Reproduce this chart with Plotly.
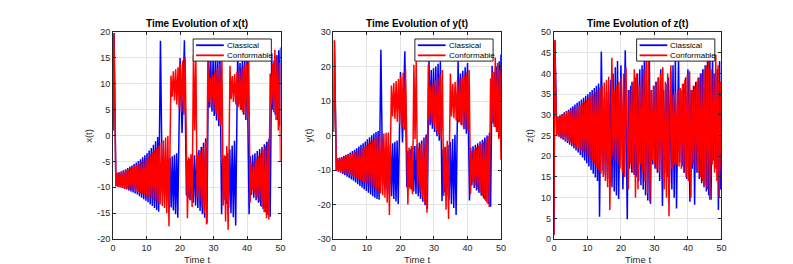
import plotly.graph_objects as go

# ---------------- data: extrema ----------------
# Classical model (blue): times of successive extrema and x, y, z values there
t_cls = [0.0, 0.3,
         0.85, 1.17, 1.49, 1.81, 2.13, 2.45, 2.77, 3.09, 3.41, 3.73, 4.05, 4.37, 4.69, 5.01, 5.33, 5.65, 5.97, 6.29, 6.61, 6.93,
         7.25, 7.57, 7.89, 8.21, 8.53, 8.85, 9.17, 9.49, 9.81, 10.13, 10.45, 10.77, 11.09, 11.41, 11.73, 12.05, 12.37, 12.69, 13.01, 13.33,
         13.62, 14.15,
         14.7, 15.03, 15.36, 15.69, 16.02, 16.35, 16.68, 17.01, 17.34, 17.67, 18.0, 18.33, 18.66, 18.99, 19.32,
         20.0, 20.6, 21.3, 21.9,
         22.24, 22.58, 22.92, 23.26, 23.6, 23.94, 24.28, 24.62, 24.96, 25.3, 25.64, 25.98, 26.32, 26.66, 27.0, 27.34, 27.68, 28.02,
         28.5, 28.84, 29.18, 29.52, 29.86, 30.2, 30.54, 30.88, 31.22, 31.56, 31.9,
         32.4, 32.75, 33.1, 33.45, 33.8, 34.15, 34.5, 34.85, 35.2, 35.55, 35.9, 36.25, 36.6,
         37.2, 37.55, 37.9, 38.25, 38.6, 38.95, 39.3, 39.65, 40.0,
         40.6, 40.95, 41.3, 41.65, 42.0, 42.35, 42.7, 43.05, 43.4, 43.75, 44.1, 44.45, 44.8, 45.15, 45.5, 45.85, 46.2, 46.55, 46.9,
         47.35, 47.7, 48.05, 48.4, 48.75, 49.1, 49.45, 49.75, 50.0]
x_cls = [1.0, 19.8,
         -9.8, -7.2, -9.9, -7.1, -10.0, -6.9, -10.1, -6.7, -10.3, -6.5, -10.4, -6.3, -10.6, -6.0, -10.8, -5.8, -11.0, -5.5,
         -11.2, -5.2, -11.4, -4.9, -11.7, -4.6, -12.0, -4.2, -12.3, -3.8, -12.6, -3.4, -12.9, -2.9, -13.3, -2.4, -13.6, -1.8, -14.0, -1.1, -14.4, -0.3,
         -14.7, 18.3,
         -11.0, -5.2, -11.8, -4.9, -12.5, -4.6, -13.2, -4.3, -13.9, -4.0, -14.5, -3.7, -15.2, -3.4, -15.9,
         15.0, 0.5, 18.4, -11.6,
         -4.8, -12.0, -4.5, -12.5, -4.2, -13.0, -3.8, -13.5, -3.3, -14.0, -2.8, -14.6, -2.2, -15.2, -1.4, -15.9, -0.5, -17.0,
         16.5, 5.4, 14.5, 4.6, 14.8, 3.8, 15.1, 2.9, 15.5, 1.8, 16.0,
         -15.2, -4.5, -12.5, -4.0, -13.2, -3.4, -14.0, -2.7, -15.0, -1.9, -15.8, -1.0, -17.4,
         16.0, 6.0, 14.0, 5.0, 14.5, 4.0, 15.0, 3.0, 15.8,
         -15.2, -4.0, -11.5, -3.7, -12.0, -3.4, -12.5, -3.0, -13.0, -2.6, -13.6, -2.2, -14.2, -1.7, -14.8, -1.2, -15.3, -0.6, -15.7,
         15.9, 5.0, 14.5, 4.0, 15.5, 3.0, 16.5, 2.0, 17.0]
y_cls = [1.0, 27.5,
         -10.2, -6.6, -10.5, -6.4, -10.8, -6.2, -11.1, -5.9, -11.5, -5.6, -11.9, -5.3, -12.3, -4.9, -12.7, -4.5, -13.1, -4.1,
         -13.6, -3.7, -14.1, -3.2, -14.6, -2.7, -15.1, -2.2, -15.6, -1.7, -16.1, -1.1, -16.6, -0.5, -17.1, 0.1, -17.6, 0.6, -18.0, 1.0, -18.4, 1.3,
         -18.6, 24.9,
         -14.5, -3.8, -15.2, -3.4, -16.0, -3.0, -16.8, -2.6, -17.6, -2.2, -18.4, -1.8, -19.1, -1.4, -19.8,
         18.4, -2.0, 24.4, -15.0,
         -4.5, -15.0, -4.0, -15.6, -3.5, -16.2, -3.0, -16.9, -2.5, -17.6, -2.0, -18.4, -1.4, -19.2, -0.6, -20.2, 0.3, -21.3,
         22.0, 3.0, 19.0, 2.0, 19.5, 1.0, 20.0, -0.2, 20.8, -1.5, 21.5,
         -19.0, -4.0, -16.5, -3.4, -17.5, -2.7, -18.6, -1.9, -19.8, -1.0, -21.0, 0.2, -23.0,
         21.5, 4.0, 18.0, 3.0, 18.8, 1.8, 19.8, 0.5, 21.0,
         -18.8, -3.5, -14.5, -3.1, -15.2, -2.7, -15.9, -2.2, -16.6, -1.7, -17.4, -1.2, -18.2, -0.6, -19.0, 0.0, -19.8, 0.8, -20.6,
         20.2, 3.5, 18.5, 2.5, 20.0, 1.0, 21.5, -0.5, 23.5]
z_cls = [1.0, 48.0,
         25.0, 29.6, 24.7, 29.9, 24.3, 30.2, 24.0, 30.6, 23.6, 30.9, 23.2, 31.3, 22.8, 31.7, 22.4, 32.1, 21.9, 32.5,
         21.4, 32.9, 20.9, 33.3, 20.3, 33.7, 19.7, 34.1, 19.0, 34.6, 18.3, 35.0, 17.5, 35.5, 16.7, 36.0, 15.8, 36.5, 14.9, 37.0, 14.0, 37.6,
         5.4, 45.3,
         16.5, 34.0, 15.5, 35.5, 14.5, 37.0, 13.5, 38.5, 12.5, 40.0, 11.5, 41.5, 10.5, 43.0, 9.7,
         42.0, 12.0, 45.6, 4.8,
         36.0, 17.0, 37.0, 16.0, 38.0, 15.5, 39.0, 15.0, 40.0, 14.0, 41.0, 13.0, 42.0, 12.0, 43.0, 10.5, 44.0, 9.3,
         44.0, 8.5, 36.0, 18.0, 37.0, 17.0, 38.0, 16.0, 39.0, 14.0, 41.0,
         8.0, 36.0, 16.0, 37.5, 15.0, 39.0, 13.5, 40.5, 12.0, 42.0, 10.0, 44.0, 7.4,
         44.0, 18.5, 36.0, 17.5, 37.5, 16.0, 39.0, 14.5, 41.0,
         9.0, 36.0, 17.0, 37.0, 8.3, 38.0, 16.0, 39.0, 14.5, 40.0, 13.5, 41.0, 12.5, 42.0, 11.5, 43.0, 10.5, 44.0, 9.5,
         44.0, 19.0, 40.0, 17.0, 41.0, 7.0, 43.0, 12.0, 27.5]

# Conformable model (red)
t_conf = [0.0, 0.25,
          0.85, 1.18, 1.51, 1.84, 2.17, 2.5, 2.83, 3.16, 3.49, 3.82, 4.15, 4.48, 4.81, 5.14, 5.47, 5.8, 6.13, 6.46, 6.79, 7.12,
          7.45, 7.78, 8.11, 8.44, 8.77, 9.1, 9.43, 9.76, 10.09, 10.42, 10.75, 11.08, 11.41, 11.74, 12.07, 12.4, 12.73, 13.06,
          13.39, 13.72, 14.05, 14.38, 14.71, 15.04, 15.37, 15.7, 16.03, 16.36, 16.69,
          17.3, 17.65, 18.0, 18.35, 18.7, 19.05, 19.4, 19.75, 20.1, 20.45, 20.8, 21.15, 21.5,
          22.2, 22.55, 22.9, 23.25, 23.6, 24.0, 24.35, 24.7, 25.1, 25.45, 25.8, 26.15, 26.5, 26.85, 27.2, 27.55, 27.9,
          28.3, 28.65, 29.0, 29.35, 29.7, 30.05, 30.4, 30.75, 31.1, 31.45, 31.8, 32.15, 32.5,
          32.9, 33.25, 33.6, 33.95, 34.35,
          34.9, 35.25, 35.6, 35.95, 36.3, 36.65, 37.0, 37.35, 37.7, 38.05, 38.4, 38.75, 39.1, 39.45, 39.8, 40.15, 40.5,
          40.9, 41.25, 41.6, 41.95, 42.3, 42.65, 43.0, 43.35, 43.7, 44.05, 44.4, 44.75, 45.1, 45.45, 45.8, 46.15, 46.5,
          46.9, 47.25, 47.6, 47.95, 48.3, 48.65, 49.0, 49.35, 49.7, 50.0]
x_conf = [1.0, 19.8,
          -9.8, -7.2, -9.9, -7.1, -10.0, -7.0, -10.1, -6.8, -10.2, -6.7, -10.3, -6.5, -10.4, -6.3, -10.5, -6.1, -10.6, -5.9,
          -10.8, -5.7, -10.9, -5.4, -11.1, -5.1, -11.3, -4.8, -11.5, -4.5, -11.7, -4.1, -11.9, -3.7, -12.1, -3.3, -12.4, -2.9,
          -12.7, -2.4, -13.0, -1.9, -13.3, -1.4, -13.6, -0.9, -14.0, -0.4, -15.0, -0.1, -17.5,
          11.6, 7.5, 12.4, 6.8, 12.8, 6.0, 13.2, 5.2, 13.8, 4.6, 14.5, 4.0, 15.2,
          -16.0, -4.2, -12.5, -3.6, -13.8, 15.5, 1.0, 16.2, -12.0, -3.8, -12.8, -3.0, -13.8, -2.2, -15.0, -1.2, -17.2,
          14.8, 6.5, 11.2, 5.8, 11.8, 5.0, 12.4, 4.2, 13.0, 3.2, 13.8, 2.0, 14.6,
          -13.5, -3.8, -16.6, -2.0, -18.2,
          13.5, 7.0, 11.5, 6.5, 11.9, 6.0, 12.3, 5.5, 12.7, 5.0, 13.1, 4.5, 13.5, 4.0, 14.0, 3.5, 14.6,
          -13.0, -5.5, -10.5, -5.0, -11.2, -4.5, -12.0, -4.0, -12.8, -3.4, -13.8, -2.7, -14.8, -2.0, -16.0, -1.2, -16.2,
          12.0, 6.0, 13.8, 4.5, 16.6, 3.0, 15.5, 1.0, 14.0, -5.0]
y_conf = [1.0, 27.7,
          -10.1, -6.6, -10.3, -6.5, -10.5, -6.3, -10.7, -6.1, -10.9, -5.9, -11.1, -5.7, -11.4, -5.4, -11.7, -5.1, -12.0, -4.8,
          -12.3, -4.5, -12.6, -4.1, -12.9, -3.7, -13.3, -3.3, -13.7, -2.9, -14.1, -2.4, -14.5, -1.9, -14.9, -1.4, -15.3, -0.9,
          -15.8, -0.4, -16.3, 0.0, -16.8, 0.3, -17.3, 0.6, -18.0, 0.8, -19.5, 0.9, -23.0,
          14.5, 5.5, 15.2, 4.8, 15.8, 4.0, 16.4, 3.3, 17.2, 2.5, 18.2, 1.6, 19.3,
          -20.0, -3.5, -15.5, -3.0, -17.0, 20.5, -1.0, 21.5, -15.0, -3.5, -16.5, -2.5, -17.8, -1.5, -19.5, -0.2, -22.4,
          20.5, 4.5, 14.5, 3.6, 15.2, 2.6, 16.0, 1.5, 16.8, 0.3, 17.8, -1.0, 19.0,
          -17.5, -3.2, -21.5, -1.5, -24.2,
          18.0, 5.5, 15.0, 5.0, 15.5, 4.4, 16.0, 3.8, 16.5, 3.2, 17.0, 2.6, 17.5, 2.0, 18.2, 1.4, 19.0,
          -17.0, -4.5, -13.5, -4.0, -14.5, -3.5, -15.5, -3.0, -16.5, -2.4, -17.5, -1.8, -18.5, -1.0, -19.5, -0.2, -20.7,
          16.5, 4.0, 18.5, 2.5, 22.6, 1.0, 21.0, -1.0, 19.0, -7.0]
z_conf = [1.0, 48.0,
          25.0, 29.6, 24.8, 29.8, 24.5, 30.0, 24.2, 30.3, 23.9, 30.6, 23.6, 30.9, 23.3, 31.2, 23.0, 31.5, 22.6, 31.8,
          22.2, 32.1, 21.8, 32.4, 21.4, 32.8, 21.0, 33.2, 20.5, 33.6, 20.0, 34.0, 19.4, 34.5, 18.8, 35.0, 18.1, 35.5,
          17.4, 36.0, 16.6, 36.6, 15.8, 37.2, 15.0, 37.8, 14.0, 38.5, 12.5, 39.2, 7.0,
          43.8, 20.0, 36.0, 19.0, 37.0, 18.0, 38.0, 17.0, 39.0, 16.0, 40.0, 15.0, 41.5,
          12.0, 36.0, 18.0, 38.0, 16.0, 41.0, 10.0, 40.0, 12.0, 37.0, 18.0, 39.0, 16.0, 41.0, 14.0, 43.0, 11.0,
          43.0, 9.0, 36.0, 19.0, 37.0, 18.0, 38.0, 17.0, 39.0, 16.0, 40.0, 14.5, 41.5,
          12.0, 38.0, 10.0, 40.0, 5.5,
          42.0, 17.0, 35.0, 18.0, 35.5, 18.0, 36.0, 17.5, 36.5, 17.0, 37.5, 16.0, 38.5, 15.0, 39.5, 14.0, 40.5,
          10.0, 36.0, 18.0, 37.0, 17.0, 38.0, 16.0, 39.0, 15.0, 40.0, 14.0, 41.0, 13.0, 42.0, 12.0, 43.0, 9.5,
          41.0, 18.0, 40.0, 16.0, 44.5, 14.0, 42.0, 10.0, 38.0, 16.7]

# axis ticks and labels
t_ticks = [0, 10, 20, 30, 40, 50]
x_ticks = [-20, -15, -10, -5, 0, 5, 10, 15, 20]
y_ticks = [-30, -20, -10, 0, 10, 20, 30]
z_ticks = [0, 5, 10, 15, 20, 25, 30, 35, 40, 45, 50]
titles = ["Time Evolution of x(t)", "Time Evolution of y(t)", "Time Evolution of z(t)"]
ylabels = ["x(t)", "y(t)", "z(t)"]
series_names = ["Classical", "Conformable"]

for a, b in [(t_cls, x_cls), (t_cls, y_cls), (t_cls, z_cls), (t_conf, x_conf), (t_conf, y_conf), (t_conf, z_conf)]:
    assert len(a) == len(b), (len(a), len(b))

# ---------------- figure ----------------
W, H = 793, 264
FONT = "Liberation Sans, Arial, Helvetica, sans-serif"
AXC = "#262626"
GRID = "#e3e3e3"
COLORS = ["#0000ff", "#ff0000"]

fig = go.Figure()
panels = [
    (x_cls, x_conf, x_ticks, [-20, 20]),
    (y_cls, y_conf, y_ticks, [-30, 30]),
    (z_cls, z_conf, z_ticks, [0, 50]),
]
xdoms = [[0.13, 0.3434], [0.4108, 0.6242], [0.6916, 0.905]]
ydom = [0.11, 0.925]
legend_right_px = [263, 487, 711]
LEG_W = 79
LEG_TOP, LEG_BOT = 27, 50
LINE_Y = [33.5, 44.0]

layout = dict(width=W, height=H, margin=dict(l=0, r=0, t=0, b=0),
              paper_bgcolor="white", plot_bgcolor="white",
              font=dict(family=FONT, color=AXC), showlegend=False)
annotations = []
shapes = []


def px(xp):
    return xp / W


def py(yp):
    return 1 - yp / H


for i, (cv, fv, yt, yr) in enumerate(panels):
    s = "" if i == 0 else str(i + 1)
    fig.add_trace(go.Scatter(x=t_cls, y=cv, mode="lines", name=series_names[0],
                             line=dict(color=COLORS[0], width=1.5), xaxis="x" + s, yaxis="y" + s))
    fig.add_trace(go.Scatter(x=t_conf, y=fv, mode="lines", name=series_names[1],
                             line=dict(color=COLORS[1], width=1.5), xaxis="x" + s, yaxis="y" + s))
    common = dict(showline=True, linecolor=AXC, linewidth=1, mirror="ticks",
                  ticks="inside", ticklen=3, tickcolor=AXC, tickwidth=1,
                  showgrid=True, gridcolor=GRID, gridwidth=1, zeroline=False,
                  tickfont=dict(family=FONT, size=9, color=AXC), fixedrange=True)
    layout["xaxis" + s] = dict(domain=xdoms[i], range=[0, 50], tickvals=t_ticks,
                               ticktext=[str(v) for v in t_ticks],
                               anchor="y" + s, **common)
    layout["yaxis" + s] = dict(domain=ydom, range=yr, tickvals=yt,
                               ticktext=[str(v) for v in yt],
                               anchor="x" + s, **common)

    # legend box (drawn like MATLAB's: white box, line samples, labels)
    R = legend_right_px[i]
    L = R - LEG_W
    shapes.append(dict(type="rect", xref="paper", yref="paper", x0=px(L), x1=px(R),
                       y0=py(LEG_BOT), y1=py(LEG_TOP), fillcolor="white",
                       line=dict(color=AXC, width=1), layer="above"))
    for k in range(2):
        shapes.append(dict(type="line", xref="paper", yref="paper", x0=px(L + 3), x1=px(L + 31),
                           y0=py(LINE_Y[k]), y1=py(LINE_Y[k]),
                           line=dict(color=COLORS[k], width=1.8), layer="above"))
        annotations.append(dict(text=series_names[k], x=px(L + 32), y=py(LINE_Y[k]),
                                xref="paper", yref="paper", showarrow=False,
                                xanchor="left", yanchor="middle",
                                font=dict(family=FONT, size=8, color="#000000")))

    xc = (xdoms[i][0] + xdoms[i][1]) / 2
    annotations.append(dict(text="<b>" + titles[i] + "</b>", x=xc, y=py(11), xref="paper", yref="paper",
                            showarrow=False, xanchor="center", yanchor="middle",
                            font=dict(family=FONT, size=10, color="#000000")))
    annotations.append(dict(text="Time t", x=xc, y=py(256), xref="paper", yref="paper",
                            showarrow=False, xanchor="center", yanchor="middle",
                            font=dict(family=FONT, size=9.5, color=AXC)))
    annotations.append(dict(text=ylabels[i], x=xdoms[i][0] - 25 / W, y=(ydom[0] + ydom[1]) / 2,
                            xref="paper", yref="paper", showarrow=False, textangle=-90,
                            xanchor="center", yanchor="middle",
                            font=dict(family=FONT, size=9.5, color=AXC)))

layout["annotations"] = annotations
layout["shapes"] = shapes
fig.update_layout(**layout)
fig.write_html("out.html")
